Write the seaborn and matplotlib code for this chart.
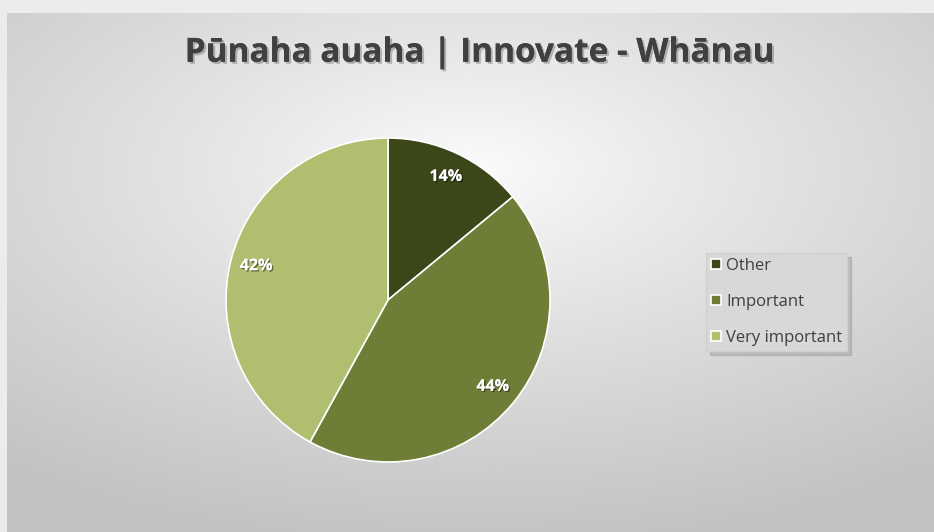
import numpy as np
import seaborn as sns
import matplotlib.pyplot as plt
import matplotlib.patheffects as pe

# data
categories = ["Other", "Important", "Very important"]
shares = [14, 44, 42]
colors = ["#3b4619", "#6e7e37", "#b0bf6f"]
title = "Pūnaha auaha | Innovate - Whānau"

sns.set_theme(style="white")
plt.rcParams['font.family'] = ['Open Sans', 'DejaVu Sans']

fig = plt.figure(figsize=(9.34, 5.32), dpi=100)
fig.patch.set_facecolor("#ececec")

# radial gradient background for the chart area
bg = fig.add_axes([7 / 934, 0, 1 - 7 / 934, 1 - 13 / 532])
yy, xx = np.mgrid[0:1:300j, 0:1:500j]
d = np.sqrt(((xx - 0.5) / 1.0) ** 2 + ((yy - 0.3) / 0.9) ** 2)
shade = 0.985 - 0.22 * np.clip(d / 0.8, 0, 1) ** 0.9
bg.imshow(shade, cmap="gray", vmin=0, vmax=1, aspect="auto",
          extent=[0, 1, 1, 0], interpolation="bicubic")
bg.set_axis_off()

# pie
ax = fig.add_axes([(388 - 165) / 934, (532 - 300 - 165) / 532, 330 / 934, 330 / 532])
wedges, texts, autotexts = ax.pie(
    shares, colors=colors, startangle=90, counterclock=False,
    autopct="%1.0f%%", pctdistance=0.84,
    wedgeprops={"edgecolor": "white", "linewidth": 1.2},
    textprops={"color": "white", "fontsize": 11.5, "fontweight": "bold"},
    radius=162 / 165)
for t in autotexts:
    t.set_path_effects([pe.withSimplePatchShadow(offset=(1, -1), shadow_rgbFace="black", alpha=0.45), pe.Normal()])
ax.set_xlim(-1, 1)
ax.set_ylim(-1, 1)
ax.set_aspect("equal")

fig.text(0.514, 0.9, title, ha="center", va="center", fontsize=24,
         fontweight="bold", color="#404040",
         path_effects=[pe.withSimplePatchShadow(offset=(1.5, -1.5), alpha=0.25), pe.Normal()])

leg = fig.legend(wedges, categories, loc="center left",
                 bbox_to_anchor=(706 / 934, 1 - 302 / 532), frameon=True,
                 fontsize=12, handlelength=0.6, handleheight=0.6,
                 handletextpad=0.3, labelspacing=1.2, borderpad=0.3,
                 borderaxespad=0.0, fancybox=False,
                 shadow={"ox": 3, "oy": -3, "color": "#8a8a8a", "alpha": 0.35})
leg.get_frame().set_facecolor("#d8d8d8")
leg.get_frame().set_edgecolor("#d0d0d0")
for t in leg.get_texts():
    t.set_color("#404040")

fig.savefig("out.png", dpi=100, facecolor=fig.get_facecolor())
